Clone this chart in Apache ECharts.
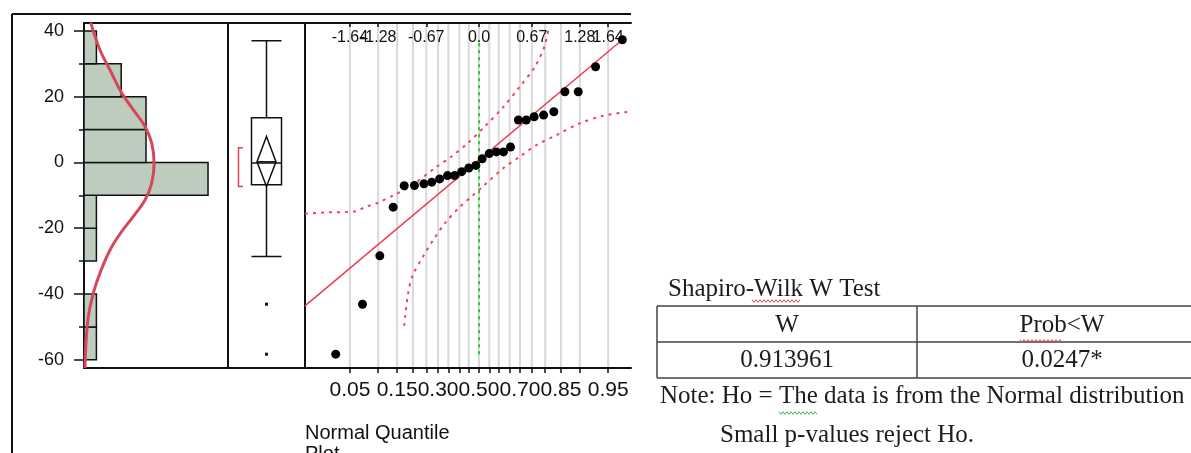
<!DOCTYPE html>
<html>
<head>
<meta charset="utf-8">
<script src="https://cdn.jsdelivr.net/npm/echarts@6/dist/echarts.min.js"></script>
<style>
    html, body { margin: 0; padding: 0; background: #fff; }
    #main { width: 1191px; height: 453px; }
</style>
</head>
<body>
<div id="main"></div>
<script>
// histogram bins
var binLow = [-60, -50, -40, -30, -20, -10, 0, 10, 20, 30];
var binHigh = [-50, -40, -30, -20, -10, 0, 10, 20, 30, 40];
var binCount = [1, 1, 0, 1, 1, 10, 5, 5, 3, 1];

// fitted normal curve over the histogram
var densityCount = [0.54, 1.29, 2.10, 3.04, 3.98, 4.92, 5.46, 5.65, 5.46, 4.92, 3.98, 3.04, 2.10, 1.29, 0.75, 0.35, 0.16, 0.08];
var densityValue = [42.5, 34.2, 28.1, 21.1, 16.0, 10.9, 5.9, -0.2, -6.3, -11.4, -16.4, -21.0, -26.6, -33.6, -39.7, -46.8, -54.9, -62.5];

// outlier box plot: lower whisker, Q1, median, Q3, upper whisker
var boxStats = [-28.6, -6.8, -0.2, 13.6, 37.0];
var boxOutliers = [-43.1, -58.3];
var meanDiamond = [-7.3, 0.2, 7.9];
var shortestHalf = [-7.3, 4.5];

// normal quantile plot
var qqQuantile = [-1.82, -1.48, -1.26, -1.09, -0.95, -0.82, -0.70, -0.60, -0.50, -0.40, -0.31, -0.22, -0.13, -0.04,
    0.04, 0.13, 0.22, 0.31, 0.40, 0.50, 0.60, 0.70, 0.82, 0.95, 1.09, 1.26, 1.48, 1.82];
var qqValue = [-58.3, -43.1, -28.4, -13.6, -7.1, -7.0, -6.5, -6.0, -5.0, -4.0, -4.0, -2.8, -1.7, -0.9,
    1.1, 2.7, 3.2, 3.2, 4.7, 12.9, 12.9, 13.9, 14.4, 15.4, 21.5, 21.5, 29.1, 37.3];
var fitZ = [-2.21, 1.82];
var fitValue = [-43.6, 37.3];
var upperBandZ = [-2.21, -1.96, -1.58, -1.43, -1.30, -1.07, -0.86, -0.56, -0.35, -0.14, 0.08, 0.31, 0.52, 0.71, 0.83, 0.89];
var upperBandValue = [-15.6, -15.2, -14.9, -13.4, -12.4, -9.8, -7.1, -1.7, 1.8, 5.9, 11.1, 16.9, 23.1, 29.1, 35.2, 41.5];
var lowerBandZ = [-0.95, -0.90, -0.84, -0.71, -0.58, -0.43, -0.26, -0.07, 0.05, 0.31, 0.52, 0.73, 0.99, 1.28, 1.58, 1.93];
var lowerBandValue = [-49.7, -39.7, -34.2, -28.6, -23.5, -18.4, -13.9, -9.8, -7.3, -1.7, 1.8, 5.3, 8.4, 11.9, 14.2, 15.5];

// axis ticks and labels
var yMajorTicks = [-60, -40, -20, 0, 20, 40];
var yMinorTicks = [-50, -30, -10, 10, 30];
var gridProbZ = [-1.64, -1.28, -1.04, -0.84, -0.67, -0.52, -0.39, -0.25, -0.13, 0, 0.13, 0.25, 0.39, 0.52, 0.67, 0.84, 1.04, 1.28, 1.64];
var probLabelZ = [-1.64, -1.04, -0.52, 0, 0.52, 1.04, 1.64];
var probLabels = ['0.05', '0.15', '0.30', '0.50', '0.70', '0.85', '0.95'];
var quantileLabelZ = [-1.64, -1.28, -0.67, 0, 0.67, 1.28, 1.64];
var quantileLabels = ['-1.64', '-1.28', '-0.67', '0.0', '0.67', '1.28', '1.64'];

// Shapiro-Wilk table
var swTitle = 'Shapiro-Wilk W Test';
var swHeaders = ['W', 'Prob<W'];
var swValues = ['0.913961', '0.0247*'];
var swNotes = ['Note: Ho = The data is from the Normal distribution', 'Small p-values reject Ho.'];

var Y_MIN = -62.5, Y_MAX = 42.4;
var Z_MIN = -2.21, Z_MAX = 1.93;
var SANS = '"Liberation Sans", Arial, sans-serif';
var SERIF = '"Liberation Serif", "Times New Roman", serif';
var INK = '#111';

function zip(a, b) {
    var out = [];
    for (var i = 0; i < a.length; i++) out.push([a[i], b[i]]);
    return out;
}

function labelFor(zs, texts) {
    return function (v) {
        for (var i = 0; i < zs.length; i++) {
            if (Math.abs(zs[i] - v) < 1e-6) return texts[i];
        }
        return '';
    };
}

// top quantile labels overlap each other, so they go on two stacked axes (every other one)
function topAxis(parity, showLine) {
    var zs = quantileLabelZ.filter(function (z, i) { return i % 2 === parity; });
    return {
        gridIndex: 2, type: 'value', min: Z_MIN, max: Z_MAX, position: 'top', offset: 0,
        axisLine: {show: showLine, onZero: false, lineStyle: {color: INK, width: 2}},
        axisTick: {show: true, inside: true, customValues: zs, length: 4, lineStyle: {color: INK, width: 1.5}},
        axisLabel: {inside: true, customValues: zs, formatter: labelFor(quantileLabelZ, quantileLabels),
            hideOverlap: false, margin: 7, fontSize: 16, fontFamily: SANS, color: INK},
        splitLine: {show: false}
    };
}

function squiggle(x1, x2, y, color) {
    var pts = [];
    for (var x = x1, k = 0; x <= x2; x += 2, k++) pts.push([x, y + (k % 2 ? 1.3 : -1.3)]);
    return {type: 'polyline', silent: true, shape: {points: pts}, style: {stroke: color, lineWidth: 1, fill: null}};
}

function hline(x1, x2, y, color, w) {
    return {type: 'line', silent: true, shape: {x1: x1, y1: y, x2: x2, y2: y}, style: {stroke: color, lineWidth: w}};
}
function vline(x, y1, y2, color, w) {
    return {type: 'line', silent: true, shape: {x1: x, y1: y1, x2: x, y2: y2}, style: {stroke: color, lineWidth: w}};
}
function label(text, x, y, font, align) {
    return {type: 'text', silent: true, style: {text: text, x: x, y: y, fill: '#1c1c1c', fontSize: 25, fontFamily: font,
        align: align || 'left', verticalAlign: 'middle'}};
}

var chart = echarts.init(document.getElementById('main'));

var histData = [];
for (var i = 0; i < binLow.length; i++) histData.push([binLow[i], binHigh[i], binCount[i]]);

var option = {
    animation: false,
    backgroundColor: '#fff',
    grid: [
        {left: 84, top: 23, width: 144, height: 345, show: true, borderColor: INK, borderWidth: 2, backgroundColor: 'transparent'},
        {left: 228, top: 23, width: 77, height: 345, show: true, borderColor: INK, borderWidth: 2, backgroundColor: 'transparent'},
        {left: 305, top: 23, width: 326, height: 345}
    ],
    xAxis: [
        {gridIndex: 0, type: 'value', min: 0, max: 11.61, show: false},
        {gridIndex: 1, type: 'category', data: [''], show: false},
        {
            gridIndex: 2, type: 'value', min: Z_MIN, max: Z_MAX, position: 'bottom',
            axisLine: {show: true, onZero: false, lineStyle: {color: INK, width: 2}},
            axisTick: {show: true, customValues: gridProbZ, length: 5, lineStyle: {color: INK, width: 1.5}},
            axisLabel: {customValues: probLabelZ, formatter: labelFor(probLabelZ, probLabels), margin: 12,
                hideOverlap: false, fontSize: 21, fontFamily: SANS, color: INK},
            splitLine: {show: false}
        },
        topAxis(0, true),
        topAxis(1, false)
    ],
    yAxis: [
        {
            gridIndex: 0, type: 'value', min: Y_MIN, max: Y_MAX,
            axisLine: {show: false},
            axisTick: {show: true, customValues: yMajorTicks, length: 10, lineStyle: {color: INK, width: 1.5}},
            axisLabel: {customValues: yMajorTicks, margin: 20, fontSize: 18, fontFamily: SANS, color: INK},
            splitLine: {show: false}
        },
        {
            gridIndex: 0, type: 'value', min: Y_MIN, max: Y_MAX, position: 'left', offset: 0,
            axisLine: {show: false},
            axisTick: {show: true, customValues: yMinorTicks, length: 5, lineStyle: {color: INK, width: 1.5}},
            axisLabel: {show: false},
            splitLine: {show: false}
        },
        {gridIndex: 1, type: 'value', min: Y_MIN, max: Y_MAX, show: false},
        {
            gridIndex: 2, type: 'value', min: Y_MIN, max: Y_MAX,
            axisLine: {show: true, onZero: false, lineStyle: {color: INK, width: 2}},
            axisTick: {show: false}, axisLabel: {show: false}, splitLine: {show: false}
        }
    ],
    series: [
        {
            type: 'custom', name: 'histogram', xAxisIndex: 0, yAxisIndex: 0, data: histData,
            encode: {x: 2, y: [0, 1]},
            renderItem: function (params, api) {
                if (!api.value(2)) return;
                var p1 = api.coord([0, api.value(1)]);
                var p2 = api.coord([api.value(2), api.value(0)]);
                return {
                    type: 'rect',
                    shape: {x: p1[0], y: p1[1], width: p2[0] - p1[0], height: p2[1] - p1[1]},
                    style: {fill: '#bdccbc', stroke: INK, lineWidth: 1.5}
                };
            }
        },
        {
            type: 'line', name: 'normal fit', xAxisIndex: 0, yAxisIndex: 0, data: zip(densityCount, densityValue),
            smooth: 0.4, showSymbol: false, z: 5,
            lineStyle: {color: '#d5475a', width: 3}
        },
        {
            type: 'boxplot', xAxisIndex: 1, yAxisIndex: 2, data: [boxStats], boxWidth: [30, 30],
            itemStyle: {color: 'transparent', borderColor: INK, borderWidth: 1.5}
        },
        {
            type: 'custom', name: 'means', xAxisIndex: 1, yAxisIndex: 2,
            data: [[0, meanDiamond[0], meanDiamond[1], meanDiamond[2], shortestHalf[0], shortestHalf[1]]],
            encode: {x: 0, y: [1, 2, 3]},
            renderItem: function (params, api) {
                var lo = api.coord([0, api.value(1)]);
                var mid = api.coord([0, api.value(2)]);
                var hi = api.coord([0, api.value(3)]);
                var sLo = api.coord([0, api.value(4)]);
                var sHi = api.coord([0, api.value(5)]);
                var cx = mid[0], hw = 9.5, bx = cx - 28;
                return {
                    type: 'group',
                    children: [
                        {type: 'polygon', shape: {points: [[cx, hi[1]], [cx + hw, mid[1]], [cx, lo[1]], [cx - hw, mid[1]]]},
                            style: {fill: 'none', stroke: INK, lineWidth: 1.5}},
                        {type: 'line', shape: {x1: cx - hw, y1: mid[1], x2: cx + hw, y2: mid[1]},
                            style: {stroke: INK, lineWidth: 1.5}},
                        {type: 'polyline', shape: {points: [[bx + 4.5, sHi[1]], [bx, sHi[1]], [bx, sLo[1]], [bx + 4.5, sLo[1]]]},
                            style: {stroke: '#e0435a', lineWidth: 1.5, fill: null}}
                    ]
                };
            }
        },
        {
            type: 'scatter', xAxisIndex: 1, yAxisIndex: 2,
            data: boxOutliers.map(function (v) { return [0, v]; }),
            symbol: 'rect', symbolSize: 3, itemStyle: {color: INK, opacity: 1}
        },
        {
            type: 'custom', name: 'prob grid', xAxisIndex: 2, yAxisIndex: 3, z: 0,
            data: gridProbZ.map(function (z) { return [z, 0]; }),
            renderItem: function (params, api) {
                var top = api.coord([api.value(0), Y_MAX]);
                var bot = api.coord([api.value(0), Y_MIN]);
                return {type: 'line', shape: {x1: top[0], y1: top[1], x2: bot[0], y2: bot[1]},
                    style: {stroke: '#d9d9d9', lineWidth: 2}};
            }
        },
        {
            type: 'line', name: 'upper band', xAxisIndex: 2, yAxisIndex: 3, data: zip(upperBandZ, upperBandValue),
            smooth: 0.3, showSymbol: false, lineStyle: {color: '#f0465c', width: 2, type: [3, 5]}
        },
        {
            type: 'line', name: 'lower band', xAxisIndex: 2, yAxisIndex: 3, data: zip(lowerBandZ, lowerBandValue),
            smooth: 0.3, showSymbol: false, lineStyle: {color: '#f0465c', width: 2, type: [3, 5]}
        },
        {
            type: 'line', name: 'zero', xAxisIndex: 2, yAxisIndex: 3,
            data: [[0, Math.min.apply(null, qqValue)], [0, Math.max.apply(null, qqValue)]],
            showSymbol: false, lineStyle: {color: '#2ec42e', width: 2, type: [3, 4]}
        },
        {
            type: 'line', name: 'fit', xAxisIndex: 2, yAxisIndex: 3, data: zip(fitZ, fitValue),
            showSymbol: false, lineStyle: {color: '#ee3a50', width: 1.5}
        },
        {
            type: 'scatter', name: 'data', xAxisIndex: 2, yAxisIndex: 3, data: zip(qqQuantile, qqValue),
            symbolSize: 9, itemStyle: {color: '#000', opacity: 1}, z: 6
        }
    ],
    graphic: [
        hline(12, 631, 14, INK, 2),
        vline(12, 14, 453, INK, 2),
        {type: 'text', silent: true, style: {text: 'Normal Quantile\nPlot', x: 305, y: 423, fill: INK, fontSize: 20,
            fontFamily: SANS, lineHeight: 21, align: 'left', verticalAlign: 'top'}},
        label(swTitle, 668, 289, SERIF),
        hline(657, 1191, 306, '#444', 1.5),
        hline(657, 1191, 342, '#444', 1.5),
        hline(657, 1191, 378, '#444', 1.5),
        vline(657, 306, 378, '#444', 1.5),
        vline(917, 306, 378, '#444', 1.5),
        label(swHeaders[0], 787, 325, SERIF, 'center'),
        label(swHeaders[1], 1062, 325, SERIF, 'center'),
        label(swValues[0], 787, 360, SERIF, 'center'),
        label(swValues[1], 1062, 360, SERIF, 'center'),
        label(swNotes[0], 660, 396, SERIF),
        label(swNotes[1], 720, 435, SERIF),
        squiggle(752, 800, 301, '#d9434f'),
        squiggle(1020, 1062, 341, '#d9434f'),
        squiggle(779, 817, 413, '#4caf50')
    ]
};

chart.setOption(option);
</script>
</body>
</html>
